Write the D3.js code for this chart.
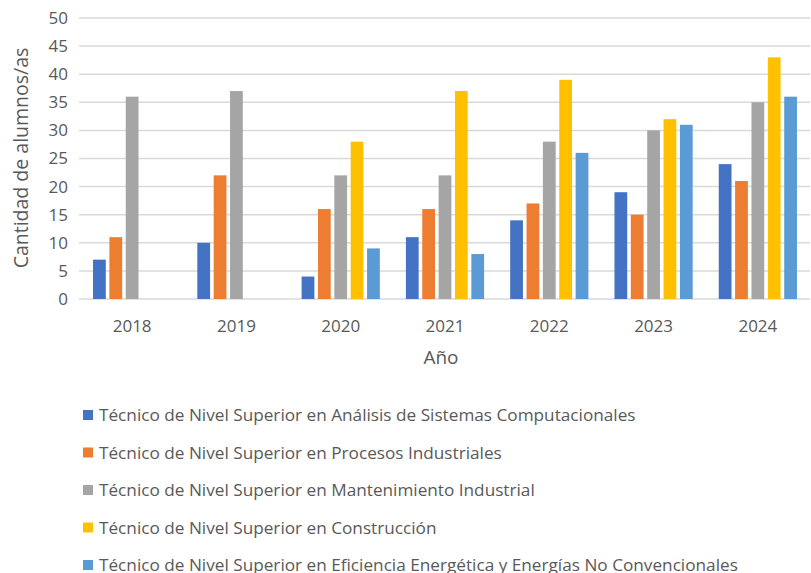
<!DOCTYPE html>
<html>
<head>
<meta charset="utf-8">
<script src="https://cdn.jsdelivr.net/npm/d3@7"></script>
<style>
  body { margin: 0; background: #fff; }
  svg text { font-family: "Open Sans", "Liberation Sans", sans-serif; fill: #595959; }
</style>
</head>
<body>
<svg id="chart" width="811" height="573"></svg>
<script>
// Data
var years = ["2018", "2019", "2020", "2021", "2022", "2023", "2024"];
var seriesNames = [
  "Técnico de Nivel Superior en Análisis de Sistemas Computacionales",
  "Técnico de Nivel Superior en Procesos Industriales",
  "Técnico de Nivel Superior en Mantenimiento Industrial",
  "Técnico de Nivel Superior en Construcción",
  "Técnico de Nivel Superior en Eficiencia Energética y Energías No Convencionales"
];
var analisis      = [7, 10, 4, 11, 14, 19, 24];
var procesos      = [11, 22, 16, 16, 17, 15, 21];
var mantenimiento = [36, 37, 22, 22, 28, 30, 35];
var construccion  = [0, 0, 28, 37, 39, 32, 43];
var eficiencia    = [0, 0, 9, 8, 26, 31, 36];
var yTicks = [0, 5, 10, 15, 20, 25, 30, 35, 40, 45, 50];
var colors = ["#4472C4", "#ED7D31", "#A5A5A5", "#FFC000", "#5B9BD5"];

var allSeries = [analisis, procesos, mantenimiento, construccion, eficiencia];
var data = years.map(function(y, i){
  return { label: y, values: allSeries.map(function(s){ return s[i]; }) };
});

var margin = {top: 18, left: 80, right: 1},
    width = 811 - margin.left - margin.right,
    height = 281;

var svg = d3.select("#chart");
var g = svg.append("g").attr("transform", "translate(" + margin.left + "," + margin.top + ")");

var x0 = d3.scaleBand().domain(years).range([0, width]).paddingInner(0.25).paddingOuter(0.125);
var keys = d3.range(seriesNames.length);
var x1 = d3.scaleBand().domain(keys).range([0, x0.bandwidth()]).paddingInner(0.22);
var y = d3.scaleLinear().domain([0, 50]).range([height, 0]);

// gridlines
g.append("g").selectAll("line").data(yTicks).enter().append("line")
  .attr("x1", -1).attr("x2", width)
  .attr("y1", function(d){ return y(d); })
  .attr("y2", function(d){ return y(d); })
  .attr("stroke", "#d9d9d9").attr("stroke-width", 1.5);

// y tick labels
g.append("g").selectAll("text").data(yTicks).enter().append("text")
  .attr("x", -12).attr("y", function(d){ return y(d); })
  .attr("dy", "0.35em").attr("text-anchor", "end")
  .style("font-size", "17px")
  .text(function(d){ return d; });

// bars
g.append("g").selectAll("g").data(data).enter().append("g")
  .attr("transform", function(d){ return "translate(" + x0(d.label) + ",0)"; })
  .selectAll("rect")
  .data(function(d){ return keys.map(function(k){ return {key: k, value: d.values[k]}; }); })
  .enter().append("rect")
    .attr("x", function(d){ return x1(d.key); })
    .attr("y", function(d){ return y(d.value); })
    .attr("width", x1.bandwidth())
    .attr("height", function(d){ return height - y(d.value); })
    .attr("fill", function(d){ return colors[d.key]; });

// x tick labels
g.append("g").selectAll("text").data(years).enter().append("text")
  .attr("x", function(d){ return x0(d) + x0.bandwidth() / 2; })
  .attr("y", height + 33)
  .attr("text-anchor", "middle")
  .style("font-size", "17px")
  .text(function(d){ return d; });

// axis titles
g.append("text")
  .attr("x", width / 2 - 4).attr("y", height + 65)
  .attr("text-anchor", "middle")
  .style("font-size", "19px")
  .text("Año");

svg.append("text")
  .attr("transform", "translate(28," + (margin.top + 140) + ") rotate(-90)")
  .attr("text-anchor", "middle")
  .style("font-size", "19.5px")
  .text("Cantidad de alumnos/as");

// legend
var legend = svg.append("g").selectAll("g").data(seriesNames).enter().append("g")
  .attr("transform", function(d, i){ return "translate(83," + (415 + i * 37.5) + ")"; });

legend.append("rect")
  .attr("x", 0).attr("y", -5).attr("width", 10).attr("height", 10)
  .attr("fill", function(d, i){ return colors[i]; });

legend.append("text")
  .attr("x", 16).attr("dy", "0.35em")
  .style("font-size", "17.2px")
  .text(function(d){ return d; });
</script>
</body>
</html>
